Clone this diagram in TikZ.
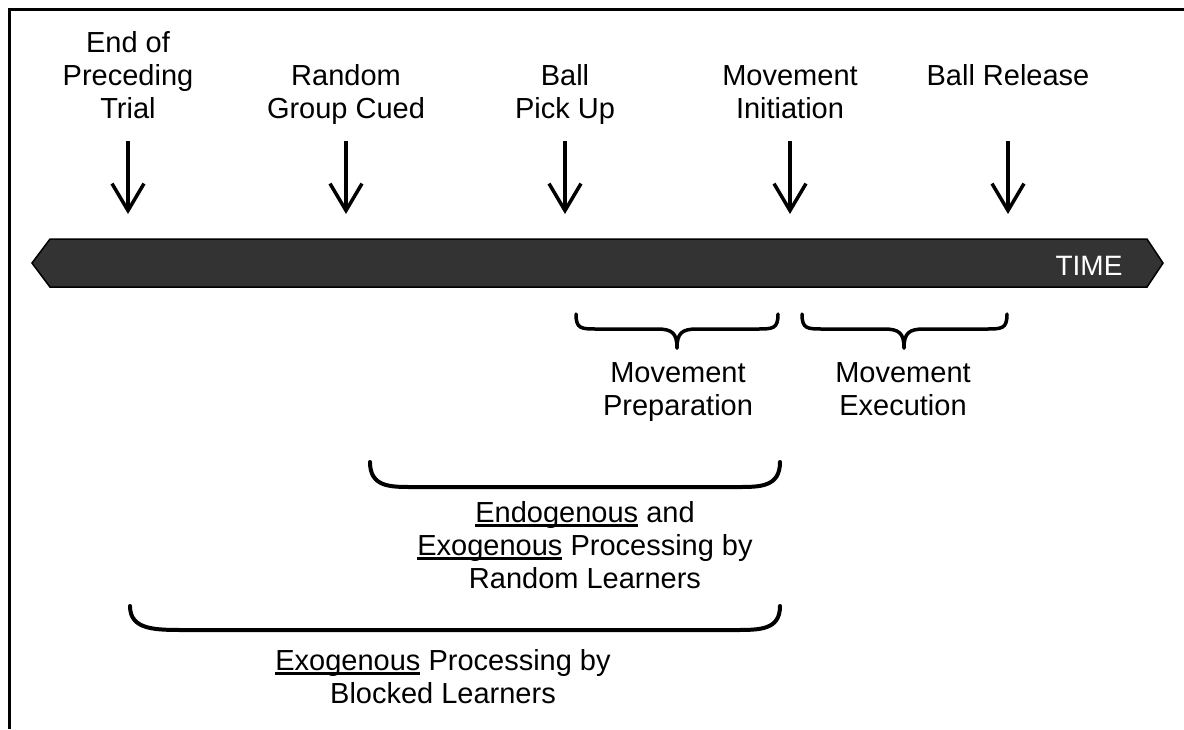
\documentclass[tikz,border=0pt]{standalone}
\usepackage{fontspec}
\setmainfont{Liberation Sans}
\usetikzlibrary{arrows.meta}
% underline with a heavier rule than \underline gives
\newsavebox{\undlbox}
\newcommand{\undl}[1]{\sbox{\undlbox}{#1}\rlap{\rule[-5pt]{\wd\undlbox}{2.6pt}}\usebox{\undlbox}}
\definecolor{bardark}{HTML}{333333}
\begin{document}
\begin{tikzpicture}[x=1pt,y=-1pt,
  % multi-line labels are placed by the baseline of their last line
  lbl/.style={font=\fontsize{29}{33}\selectfont, align=center, inner sep=0pt, anchor=base},
  tick/.style={line width=3.5pt, -{Straight Barb[length=27pt,width=32pt]}},
  brace/.style={line width=3.5pt, line cap=round},
  bracket/.style={line width=4pt, line cap=round},
]
\useasboundingbox (0,0) rectangle (1184,729);
\fill[white] (0,0) rectangle (1184,729);

% outer frame (top and left edges)
\draw[line width=3pt] (1184,9.5) -- (9.5,9.5) -- (9.5,729);

% time line
\filldraw[fill=bardark, draw=black, line width=1.5pt]
  (32,263) -- (50,239) -- (1147,239) -- (1163,263) -- (1147,287) -- (50,287) -- cycle;
\node[font=\fontsize{28}{33}\selectfont, text=white, inner sep=0pt, anchor=base] (time) at (1089,275) {TIME};

% event labels
\node[lbl] (endtrial) at (128,118) {End of\\Preceding\\Trial};
\node[lbl] (cued) at (346,118) {Random\\Group Cued};
\node[lbl] (pickup) at (565,118) {Ball\\Pick Up};
\node[lbl] (init) at (790,118) {Movement\\Initiation};
\node[lbl] (release) at (1008,85) {Ball Release};

% event arrows
\foreach \n/\x in {endtrial/128, cued/346, pickup/565, init/790, release/1008} {
  \coordinate (\n-a) at (\x,141);
  \coordinate (\n-b) at (\x,214);
  \draw[tick] (\n-a) -- (\n-b);
}

% curly braces under the time line
\coordinate (prepL) at (576,314);
\coordinate (prepR) at (778,314);
\coordinate (prepT) at (677,348);
\draw[brace] (prepL) .. controls (576,329) and (581,329) .. (598,329) -- (657,329)
  .. controls (672,329) and (677,333) .. (prepT);
\draw[brace] (prepR) .. controls (778,329) and (773,329) .. (756,329) -- (697,329)
  .. controls (682,329) and (677,333) .. (prepT);

\coordinate (execL) at (802,314);
\coordinate (execR) at (1007,314);
\coordinate (execT) at (904,348);
\draw[brace] (execL) .. controls (802,329) and (807,329) .. (824,329) -- (884,329)
  .. controls (899,329) and (904,333) .. (execT);
\draw[brace] (execR) .. controls (1007,329) and (1002,329) .. (985,329) -- (924,329)
  .. controls (909,329) and (904,333) .. (execT);

\node[lbl] (prep) at (678,415) {Movement\\Preparation};
\node[lbl] (exec) at (903,415) {Movement\\Execution};

% span of random learners
\coordinate (rndL) at (370,462);
\coordinate (rndR) at (780,462);
\draw[bracket] (rndL) .. controls (370,487) and (390,487) .. (412,487) -- (738,487)
  .. controls (760,487) and (780,487) .. (rndR);
\node[lbl] (rnd) at (585,588) {\undl{Endogenous} and\\\undl{Exogenous} Processing by\\Random Learners};

% span of blocked learners
\coordinate (blkL) at (130,606);
\coordinate (blkR) at (780,606);
\draw[bracket] (blkL) .. controls (130,630) and (155,630) .. (185,630) -- (735,630)
  .. controls (760,630) and (780,630) .. (blkR);
\node[lbl] (blk) at (443,703) {\undl{Exogenous} Processing by\\Blocked Learners};
\end{tikzpicture}
\end{document}
